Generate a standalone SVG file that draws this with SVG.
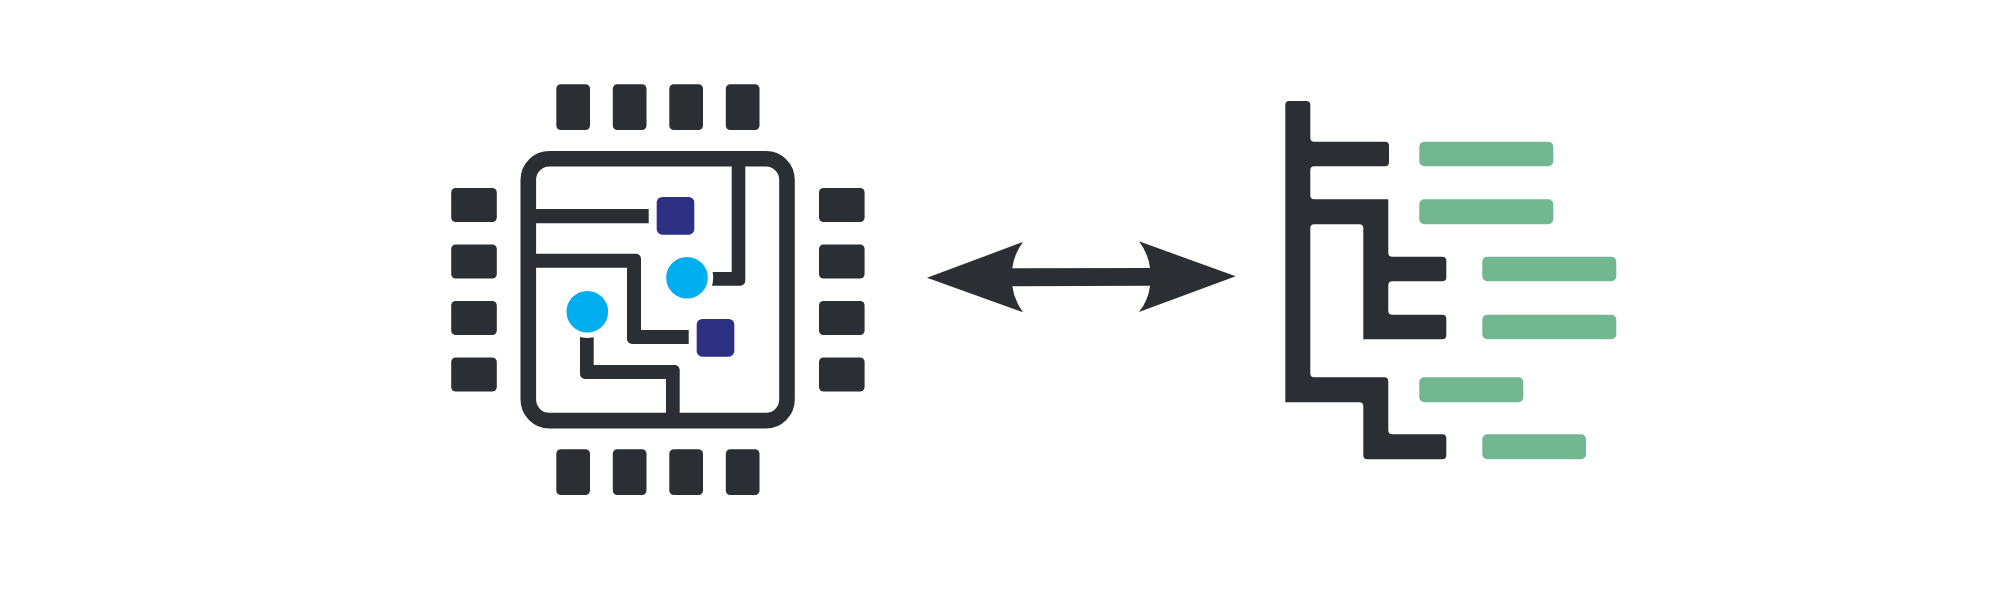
<svg xmlns="http://www.w3.org/2000/svg" width="2000" height="600" viewBox="0 0 2000 600">
<style>
.d{fill:#2b2e32}
.pv{fill:#2b2e32;width:33.7px;height:45.7px}
.ph{fill:#2b2e32;width:45.6px;height:34px}
.s{fill:#2e3183}
.c{fill:#00aeef;stroke:#fff;stroke-width:5.4px}
.g{fill:#72b692}
</style>
<rect width="2000" height="600" fill="#fff"/>
<g id="chip">
<g id="pins-top"><rect class="pv" x="556.3" y="84.3" rx="4.5"/><rect class="pv" x="612.8" y="84.3" rx="4.5"/><rect class="pv" x="669.3" y="84.3" rx="4.5"/><rect class="pv" x="725.8" y="84.3" rx="4.5"/></g>
<g id="pins-bottom"><rect class="pv" x="556.3" y="449.3" rx="4.5"/><rect class="pv" x="612.8" y="449.3" rx="4.5"/><rect class="pv" x="669.3" y="449.3" rx="4.5"/><rect class="pv" x="725.8" y="449.3" rx="4.5"/></g>
<g id="pins-left"><rect class="ph" x="451.2" y="188" rx="4.5"/><rect class="ph" x="451.2" y="244.5" rx="4.5"/><rect class="ph" x="451.2" y="301" rx="4.5"/><rect class="ph" x="451.2" y="357.5" rx="4.5"/></g>
<g id="pins-right"><rect class="ph" x="819" y="188" rx="4.5"/><rect class="ph" x="819" y="244.5" rx="4.5"/><rect class="ph" x="819" y="301" rx="4.5"/><rect class="ph" x="819" y="357.5" rx="4.5"/></g>
<rect x="528.3" y="158.8" width="258.7" height="261.8" rx="21" fill="none" stroke="#2b2e32" stroke-width="15.6"/>
<path class="d" d="M536 209H648.7V223.3H536Z"/>
<path class="d" d="M731.7 160V272H700V285.7H740.3A5 5 0 0 0 745.3 280.7V160Z"/>
<path class="d" d="M530 253.7H636A5 5 0 0 1 641 258.7V330H688.7V344H632A5 5 0 0 1 627 339V267.7H530Z"/>
<path class="d" d="M580 325V374A5 5 0 0 0 585 379H666V414H679.7V370A5 5 0 0 0 674.7 365H593.7V325Z"/>
<rect class="s" x="656.7" y="197" width="37.6" height="37.7" rx="5.5"/>
<rect class="s" x="696.7" y="319" width="37.6" height="37.7" rx="5.5"/>
<circle class="c" cx="687" cy="277.7" r="23.5"/>
<circle class="c" cx="587.3" cy="311.7" r="23.5"/>
</g>
<g id="connectors">
<path id="double-arrow" class="d" d="M927 277.7L1023 242Q1014 254 1012.3 268.3L1150 268Q1148.5 254 1139 241.3L1235.7 276.3L1139 312Q1148.5 300 1150 285.7L1012.3 286.3Q1014 300 1023 312.3Z"/>
</g>
<g id="tree">
<path class="d" d="M1285.3 105A4 4 0 0 1 1289.3 101H1306.3A4 4 0 0 1 1310.3 105V137.7A4 4 0 0 0 1314.3 141.7H1385A4 4 0 0 1 1389 145.7V162.3A4 4 0 0 1 1385 166.3H1314.3A4 4 0 0 0 1310.3 170.3V195.3A4 4 0 0 0 1314.3 199.3H1388.3V252.7A4 4 0 0 0 1392.3 256.7H1442.3A4 4 0 0 1 1446.3 260.7V277.3A4 4 0 0 1 1442.3 281.3H1392.3A4 4 0 0 0 1388.3 285.3V310.7A4 4 0 0 0 1392.3 314.7H1442.3A4 4 0 0 1 1446.3 318.7V335.3A4 4 0 0 1 1442.3 339.3H1363.3V228.3A4 4 0 0 0 1359.3 224.3H1314.3A4 4 0 0 0 1310.3 228.3V373.3A4 4 0 0 0 1314.3 377.3H1384.3A4 4 0 0 1 1388.3 381.3V430.3A4 4 0 0 0 1392.3 434.3H1442.3A4 4 0 0 1 1446.3 438.3V455.3A4 4 0 0 1 1442.3 459.3H1367.3A4 4 0 0 1 1363.3 455.3V406.3A4 4 0 0 0 1359.3 402.3H1285.3Z"/>
<rect class="g" x="1419.3" y="141.7" width="134" height="24.6" rx="5"/>
<rect class="g" x="1419.3" y="199.3" width="134" height="25" rx="5"/>
<rect class="g" x="1482.3" y="256.7" width="134" height="24.6" rx="5"/>
<rect class="g" x="1482.3" y="314.7" width="134" height="24.6" rx="5"/>
<rect class="g" x="1419.3" y="377.3" width="104" height="25" rx="5"/>
<rect class="g" x="1482.3" y="434.3" width="103.7" height="25" rx="5"/>
</g>
</svg>
